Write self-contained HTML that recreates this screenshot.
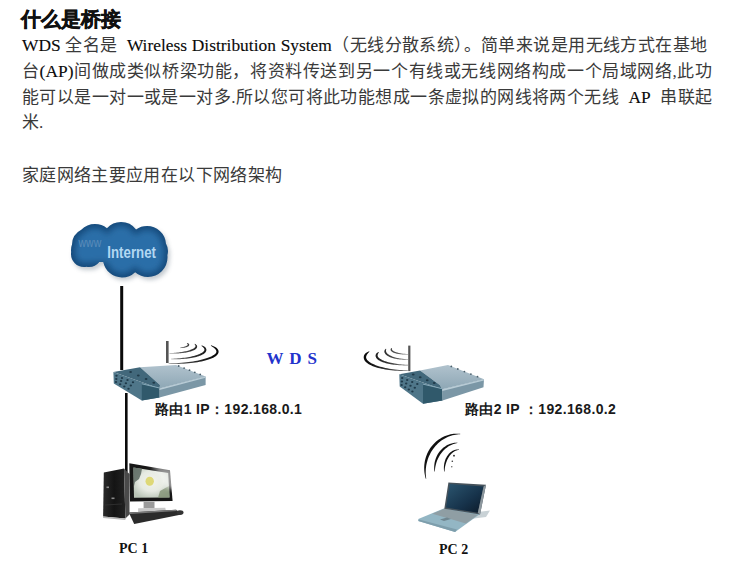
<!DOCTYPE html>
<html><head><meta charset="utf-8">
<style>
html,body{margin:0;padding:0;background:#fff;width:740px;height:563px;overflow:hidden;position:relative}
.t{position:absolute;white-space:nowrap;color:#111}
.serif{font-family:"Liberation Serif",serif}
.sans{font-family:"Liberation Sans",sans-serif}
.ln b{font-weight:normal;font-size:17.4px;color:#0a0a0a;-webkit-text-stroke:0.12px #0a0a0a}
.ln{position:absolute;left:22px;width:690px;height:26px;line-height:26px;font-size:17px;font-family:"Liberation Serif",serif;color:#3a3a3a;text-align:justify;text-align-last:justify;white-space:nowrap}
</style></head><body>
<div class="t sans" style="left:21px;top:4px;font-size:20px;font-weight:bold;line-height:30px;-webkit-text-stroke:0.5px #111">什么是桥接</div>
<div lang="zh-CN" class="ln" style="top:32px;width:685px"><b>WDS</b> 全名是&nbsp; <b>Wireless Distribution System</b>（无线分散系统）。简单来说是用无线方式在基地</div>
<div lang="zh-CN" class="ln" style="top:58px;width:690px">台<b>(AP)</b>间做成类似桥梁功能，将资料传送到另一个有线或无线网络构成一个局域网络,此功</div>
<div lang="zh-CN" class="ln" style="top:84px;width:690px">能可以是一对一或是一对多.所以您可将此功能想成一条虚拟的网线将两个无线&nbsp; <b>AP</b>&nbsp; 串联起</div>
<div lang="zh-CN" class="ln" style="top:110px;text-align-last:left">米.</div>
<div lang="zh-CN" class="ln" style="top:163px;width:260px">家庭网络主要应用在以下网络架构</div>

<svg style="position:absolute;left:0;top:0" width="740" height="563" viewBox="0 0 740 563">
<defs>
 <clipPath id="cc"><circle cx="89" cy="245" r="17"/><circle cx="95" cy="243" r="19"/><circle cx="121" cy="241" r="19"/><circle cx="147" cy="245" r="19"/><circle cx="86" cy="250" r="15"/><circle cx="153" cy="251" r="15"/><circle cx="89" cy="254" r="13"/><circle cx="84" cy="254" r="13"/><circle cx="122" cy="258.5" r="19"/><circle cx="148" cy="257.5" r="19.5"/><rect x="84" y="235" width="72" height="27"/></clipPath>
 <filter id="b3" x="-30%" y="-30%" width="160%" height="160%"><feGaussianBlur stdDeviation="3"/></filter>
 <filter id="b2" x="-30%" y="-30%" width="160%" height="160%"><feGaussianBlur stdDeviation="2"/></filter>
 <linearGradient id="scr" x1="0" y1="0" x2="1" y2="1">
  <stop offset="0" stop-color="#2c5670"/>
  <stop offset="0.6" stop-color="#16324a"/>
  <stop offset="1" stop-color="#0c1a28"/>
 </linearGradient>
 <linearGradient id="tower" x1="0" y1="0" x2="1" y2="0">
  <stop offset="0" stop-color="#2a2a2a"/><stop offset="0.5" stop-color="#141414"/><stop offset="1" stop-color="#222"/>
 </linearGradient>
 <radialGradient id="flower" cx="0.5" cy="0.45" r="0.6">
  <stop offset="0" stop-color="#f2f3ec"/><stop offset="0.55" stop-color="#e6eae2"/><stop offset="1" stop-color="#b9c4b6"/>
 </radialGradient>
 <linearGradient id="arcR" gradientUnits="userSpaceOnUse" x1="168" y1="0" x2="215" y2="0">
  <stop offset="0" stop-color="#8a8a8a"/><stop offset="0.5" stop-color="#333"/><stop offset="1" stop-color="#0a0a0a"/>
 </linearGradient>
 <linearGradient id="arcL" gradientUnits="userSpaceOnUse" x1="409" y1="0" x2="366" y2="0">
  <stop offset="0" stop-color="#8a8a8a"/><stop offset="0.5" stop-color="#333"/><stop offset="1" stop-color="#0a0a0a"/>
 </linearGradient>
 <linearGradient id="rtop" x1="0" y1="0" x2="0" y2="1">
  <stop offset="0" stop-color="#b0c2cd"/>
  <stop offset="1" stop-color="#8ea7b5"/>
 </linearGradient>
</defs>
<!-- cloud shadow -->
<g fill="#7d8a96" opacity="0.45" filter="url(#b2)" transform="translate(2,3)"><circle cx="89" cy="245" r="17"/><circle cx="95" cy="243" r="19"/><circle cx="121" cy="241" r="19"/><circle cx="147" cy="245" r="19"/><circle cx="86" cy="250" r="15"/><circle cx="153" cy="251" r="15"/><circle cx="89" cy="254" r="13"/><circle cx="84" cy="254" r="13"/><circle cx="122" cy="258.5" r="19"/><circle cx="148" cy="257.5" r="19.5"/><rect x="84" y="235" width="72" height="27"/></g>
<g clip-path="url(#cc)">
 <rect x="60" y="210" width="120" height="80" fill="#154a7b"/>
 <g fill="#2b6ea8" filter="url(#b3)"><circle cx="89" cy="245" r="13"/><circle cx="95" cy="243" r="15"/><circle cx="121" cy="241" r="15"/><circle cx="147" cy="245" r="15"/><circle cx="86" cy="250" r="11"/><circle cx="153" cy="251" r="11"/><circle cx="89" cy="254" r="9"/><circle cx="84" cy="254" r="9"/><circle cx="122" cy="258.5" r="15"/><circle cx="148" cy="257.5" r="15.5"/><rect x="84" y="235" width="72" height="27"/></g>
</g>
<text x="78.6" y="247.5" font-family="Liberation Sans" font-size="12" fill="#5a8cba" transform="translate(78.6,0) scale(0.87,1) translate(-78.6,0)">www</text>
<text x="107.3" y="257.6" font-family="Liberation Sans" font-weight="bold" font-size="16" fill="#b2d8f2" transform="translate(107.3,0) scale(0.83,1) translate(-107.3,0)">Internet</text>

<!-- lines -->
<rect x="120.2" y="286" width="3" height="84" fill="#0a0a0a"/>
<rect x="125" y="393" width="2.6" height="79" fill="#0a0a0a"/>

<!-- router 1 -->
<rect x="166" y="341" width="2.6" height="22" fill="#555"/>
<path d="M168.60 364.00 L171.16 364.03 L173.72 364.02 L176.27 363.98 L178.79 363.90 L181.29 363.79 L183.75 363.65 L186.18 363.48 L188.56 363.28 L190.88 363.04 L193.15 362.77 L195.35 362.47 L197.48 362.15 L199.53 361.79 L201.50 361.41 L203.39 361.00 L205.18 360.56 L206.87 360.10 L208.47 359.61 L209.96 359.10 L211.34 358.56 L212.61 358.00 L213.77 357.42 L214.82 356.82 L215.75 356.18 L216.56 355.52 L217.25 354.82 L217.82 354.08 L218.24 353.29 L218.51 352.46 L218.60 351.60 L218.50 350.74 L218.21 349.92 L217.75 349.16 L217.15 348.47 L216.42 347.83 L215.57 347.25 L214.61 346.71 L213.54 346.20 L212.36 345.72 L211.07 345.27 L210.83 345.83 L211.98 346.49 L213.01 347.16 L213.89 347.82 L214.64 348.47 L215.25 349.10 L215.71 349.70 L216.04 350.25 L216.26 350.75 L216.37 351.19 L216.40 351.60 L216.36 352.01 L216.22 352.44 L215.98 352.91 L215.61 353.41 L215.11 353.94 L214.46 354.50 L213.68 355.06 L212.77 355.62 L211.73 356.18 L210.56 356.74 L209.27 357.28 L207.86 357.82 L206.33 358.33 L204.70 358.83 L202.97 359.32 L201.14 359.78 L199.22 360.22 L197.21 360.63 L195.12 361.02 L192.95 361.39 L190.72 361.72 L188.42 362.03 L186.07 362.31 L183.67 362.56 L181.22 362.78 L178.74 362.97 L176.23 363.13 L173.70 363.25 L171.15 363.34 L168.60 363.40 Z" fill="url(#arcR)"/>
<path d="M171.20 359.30 L172.95 359.32 L174.70 359.33 L176.43 359.30 L178.16 359.25 L179.87 359.18 L181.56 359.09 L183.22 358.97 L184.85 358.82 L186.45 358.66 L188.01 358.47 L189.53 358.26 L191.00 358.03 L192.42 357.77 L193.79 357.50 L195.10 357.20 L196.36 356.89 L197.55 356.55 L198.68 356.20 L199.73 355.83 L200.72 355.44 L201.64 355.03 L202.49 354.60 L203.26 354.16 L203.96 353.69 L204.58 353.20 L205.11 352.69 L205.57 352.14 L205.94 351.56 L206.21 350.95 L206.36 350.31 L206.39 349.65 L206.27 349.00 L206.03 348.39 L205.67 347.83 L205.22 347.33 L204.69 346.87 L204.08 346.44 L203.39 346.06 L202.64 345.70 L201.81 345.36 L201.53 345.89 L202.21 346.40 L202.80 346.90 L203.29 347.40 L203.69 347.88 L203.99 348.33 L204.20 348.75 L204.33 349.12 L204.39 349.44 L204.41 349.73 L204.38 350.02 L204.31 350.31 L204.18 350.63 L203.97 350.98 L203.67 351.35 L203.28 351.74 L202.80 352.14 L202.23 352.55 L201.57 352.96 L200.83 353.37 L200.00 353.78 L199.09 354.18 L198.10 354.56 L197.04 354.94 L195.90 355.31 L194.70 355.66 L193.44 356.00 L192.11 356.32 L190.73 356.63 L189.30 356.92 L187.81 357.18 L186.28 357.43 L184.71 357.66 L183.11 357.87 L181.47 358.06 L179.80 358.22 L178.11 358.36 L176.40 358.48 L174.68 358.58 L172.94 358.65 L171.20 358.70 Z" fill="url(#arcR)"/>
<path d="M169.50 353.55 L170.79 353.58 L172.08 353.59 L173.36 353.58 L174.63 353.56 L175.90 353.52 L177.15 353.47 L178.38 353.40 L179.59 353.31 L180.78 353.21 L181.95 353.09 L183.09 352.96 L184.20 352.81 L185.28 352.65 L186.32 352.47 L187.33 352.28 L188.29 352.07 L189.22 351.86 L190.10 351.62 L190.94 351.38 L191.73 351.12 L192.48 350.85 L193.18 350.57 L193.82 350.27 L194.42 349.96 L194.96 349.63 L195.46 349.29 L195.90 348.93 L196.28 348.55 L196.61 348.14 L196.87 347.71 L197.06 347.25 L197.14 346.76 L197.13 346.27 L197.00 345.80 L196.79 345.37 L196.51 344.99 L196.16 344.65 L195.76 344.35 L195.32 344.08 L194.83 343.84 L194.54 344.24 L194.87 344.62 L195.13 344.99 L195.31 345.34 L195.43 345.65 L195.49 345.93 L195.50 346.16 L195.47 346.35 L195.42 346.52 L195.36 346.70 L195.27 346.89 L195.14 347.11 L194.95 347.35 L194.69 347.61 L194.37 347.89 L193.99 348.17 L193.55 348.45 L193.04 348.74 L192.48 349.03 L191.85 349.31 L191.17 349.59 L190.44 349.87 L189.65 350.14 L188.82 350.40 L187.94 350.65 L187.01 350.90 L186.05 351.13 L185.04 351.35 L183.99 351.56 L182.91 351.76 L181.80 351.95 L180.66 352.12 L179.49 352.29 L178.29 352.43 L177.08 352.57 L175.84 352.68 L174.59 352.79 L173.33 352.88 L172.06 352.95 L170.78 353.01 L169.50 353.05 Z" fill="url(#arcR)"/>
<path d="M180.28 348.17 L180.81 348.12 L181.33 348.08 L181.84 348.03 L182.33 347.97 L182.81 347.91 L183.28 347.85 L183.74 347.78 L184.17 347.71 L184.60 347.63 L185.00 347.55 L185.39 347.47 L185.77 347.37 L186.13 347.28 L186.46 347.18 L186.79 347.07 L187.09 346.96 L187.38 346.85 L187.65 346.72 L187.90 346.60 L188.13 346.46 L188.35 346.31 L188.55 346.15 L188.73 345.98 L188.89 345.80 L189.03 345.59 L189.14 345.36 L189.22 345.12 L189.25 344.86 L189.23 344.60 L189.17 344.35 L189.06 344.13 L188.91 343.93 L188.74 343.76 L188.55 343.61 L188.34 343.48 L188.12 343.37 L187.88 343.28 L187.62 343.20 L187.35 343.12 L187.06 343.05 L186.85 343.51 L187.06 343.68 L187.24 343.85 L187.40 344.02 L187.52 344.18 L187.62 344.33 L187.70 344.46 L187.74 344.58 L187.77 344.67 L187.77 344.74 L187.76 344.78 L187.75 344.79 L187.75 344.80 L187.75 344.81 L187.75 344.83 L187.73 344.87 L187.70 344.93 L187.65 345.01 L187.57 345.10 L187.47 345.20 L187.34 345.31 L187.18 345.42 L187.00 345.54 L186.80 345.67 L186.57 345.79 L186.32 345.92 L186.04 346.05 L185.75 346.18 L185.43 346.30 L185.09 346.43 L184.73 346.56 L184.36 346.68 L183.96 346.80 L183.55 346.92 L183.12 347.04 L182.67 347.15 L182.21 347.26 L181.73 347.37 L181.24 347.47 L180.74 347.57 L180.22 347.67 Z" fill="url(#arcR)"/>
<polygon points="140,367.3 176,365 205.6,376.5 159.5,388.5 160,385" fill="url(#rtop)"/>
<polygon points="113.4,372.1 140,367.3 160,385 159.5,388.5" fill="#42687b"/>
<polygon points="113.4,372.1 159.5,388.5 159.5,397.5 141.8,400.4 113.8,383.4" fill="#4f7689"/>
<polygon points="141.8,383.8032537960955 159.5,388.0 159.5,397.5 141.8,400.4" fill="#30596b"/>
<line x1="141.8" y1="383.8032537960955" x2="159.5" y2="388.0" stroke="#8fb0bf" stroke-width="0.9"/>
<polygon points="159.5,388.5 205.6,376.5 205.6,385 159.5,397.5" fill="#7b97a6"/>
<polygon points="159.5,388.5 205.6,376.5 205.6,377.86 159.5,389.94" fill="#b9ccd6"/>
<ellipse cx="116.5" cy="375.8" rx="1.2" ry="1.0" fill="#1f3a4a"/>
<ellipse cx="122.0" cy="377.9" rx="1.2" ry="1.0" fill="#1f3a4a"/>
<ellipse cx="127.5" cy="380.1" rx="1.2" ry="1.0" fill="#1f3a4a"/>
<ellipse cx="133.0" cy="382.2" rx="1.2" ry="1.0" fill="#1f3a4a"/>
<ellipse cx="116.3" cy="378.9" rx="1.2" ry="1.0" fill="#1f3a4a"/>
<ellipse cx="121.1" cy="381.1" rx="1.2" ry="1.0" fill="#1f3a4a"/>
<ellipse cx="125.9" cy="383.3" rx="1.2" ry="1.0" fill="#1f3a4a"/>
<ellipse cx="130.8" cy="385.5" rx="1.2" ry="1.0" fill="#1f3a4a"/>
<ellipse cx="116.0" cy="382.1" rx="1.2" ry="1.0" fill="#1f3a4a"/>
<ellipse cx="120.2" cy="384.3" rx="1.2" ry="1.0" fill="#1f3a4a"/>
<ellipse cx="124.3" cy="386.5" rx="1.2" ry="1.0" fill="#1f3a4a"/>
<ellipse cx="128.5" cy="388.7" rx="1.2" ry="1.0" fill="#1f3a4a"/>
<ellipse cx="130.6" cy="372.0" rx="1.4" ry="1.0" fill="#203a49"/>
<ellipse cx="138.3" cy="375.5" rx="1.4" ry="1.0" fill="#203a49"/>
<ellipse cx="146.1" cy="379.1" rx="1.4" ry="1.0" fill="#203a49"/>
<ellipse cx="153.8" cy="382.7" rx="1.4" ry="1.0" fill="#203a49"/>
<circle cx="178.7" cy="366.0" r="0.9" fill="#4a5f6b"/>
<circle cx="184.1" cy="368.1" r="0.9" fill="#4a5f6b"/>
<circle cx="189.5" cy="370.2" r="0.9" fill="#4a5f6b"/>
<circle cx="194.8" cy="372.3" r="0.9" fill="#4a5f6b"/>
<circle cx="200.2" cy="374.4" r="0.9" fill="#4a5f6b"/>

<!-- router 2 -->
<rect x="408.2" y="345.6" width="2.2" height="25.5" fill="#555"/>
<path d="M408.20 371.00 L406.00 371.03 L403.81 371.02 L401.63 370.98 L399.46 370.90 L397.32 370.79 L395.20 370.65 L393.11 370.47 L391.06 370.26 L389.05 370.01 L387.09 369.73 L385.17 369.43 L383.32 369.09 L381.53 368.72 L379.80 368.32 L378.14 367.89 L376.55 367.43 L375.05 366.95 L373.62 366.44 L372.27 365.90 L371.01 365.34 L369.84 364.75 L368.77 364.14 L367.78 363.50 L366.89 362.84 L366.10 362.15 L365.41 361.43 L364.82 360.67 L364.35 359.88 L364.00 359.05 L363.78 358.20 L363.70 357.33 L363.77 356.46 L363.99 355.61 L364.37 354.80 L364.89 354.05 L365.54 353.37 L366.29 352.75 L367.15 352.18 L368.09 351.66 L369.12 351.17 L369.44 351.68 L368.65 352.43 L367.98 353.17 L367.42 353.88 L366.98 354.57 L366.65 355.20 L366.40 355.79 L366.24 356.33 L366.14 356.83 L366.10 357.32 L366.14 357.80 L366.26 358.30 L366.47 358.82 L366.77 359.36 L367.19 359.93 L367.71 360.51 L368.34 361.10 L369.08 361.70 L369.93 362.29 L370.89 362.88 L371.94 363.46 L373.10 364.03 L374.36 364.59 L375.70 365.13 L377.13 365.65 L378.65 366.15 L380.24 366.63 L381.92 367.09 L383.66 367.52 L385.46 367.93 L387.33 368.31 L389.25 368.66 L391.23 368.98 L393.25 369.27 L395.31 369.53 L397.40 369.76 L399.52 369.95 L401.67 370.11 L403.84 370.24 L406.01 370.34 L408.20 370.40 Z" fill="url(#arcL)"/>
<path d="M408.20 365.40 L406.67 365.43 L405.13 365.43 L403.61 365.41 L402.09 365.37 L400.59 365.30 L399.10 365.22 L397.63 365.11 L396.19 364.98 L394.77 364.83 L393.38 364.65 L392.03 364.46 L390.71 364.24 L389.43 364.01 L388.20 363.75 L387.00 363.48 L385.86 363.18 L384.76 362.87 L383.71 362.54 L382.72 362.19 L381.79 361.83 L380.91 361.44 L380.09 361.04 L379.33 360.62 L378.63 360.19 L378.00 359.73 L377.43 359.26 L376.92 358.76 L376.49 358.23 L376.13 357.68 L375.85 357.10 L375.65 356.49 L375.56 355.87 L375.58 355.24 L375.73 354.64 L375.99 354.07 L376.35 353.55 L376.80 353.09 L377.31 352.67 L377.88 352.30 L378.51 351.96 L378.88 352.43 L378.49 352.96 L378.17 353.47 L377.94 353.94 L377.79 354.38 L377.70 354.78 L377.65 355.12 L377.64 355.43 L377.65 355.73 L377.70 356.02 L377.79 356.33 L377.95 356.66 L378.16 357.02 L378.45 357.39 L378.82 357.77 L379.25 358.16 L379.77 358.56 L380.35 358.96 L381.01 359.35 L381.73 359.75 L382.53 360.13 L383.39 360.51 L384.31 360.88 L385.29 361.24 L386.33 361.59 L387.42 361.92 L388.56 362.24 L389.75 362.55 L390.99 362.84 L392.27 363.11 L393.59 363.36 L394.94 363.60 L396.33 363.81 L397.75 364.01 L399.19 364.19 L400.66 364.34 L402.14 364.48 L403.64 364.59 L405.15 364.68 L406.68 364.75 L408.20 364.80 Z" fill="url(#arcL)"/>
<path d="M408.20 359.75 L407.13 359.77 L406.06 359.78 L405.00 359.77 L403.94 359.73 L402.89 359.69 L401.85 359.62 L400.83 359.53 L399.81 359.43 L398.82 359.31 L397.84 359.18 L396.88 359.02 L395.95 358.85 L395.04 358.66 L394.15 358.46 L393.30 358.24 L392.47 358.00 L391.67 357.75 L390.91 357.49 L390.18 357.20 L389.49 356.91 L388.83 356.60 L388.22 356.27 L387.64 355.93 L387.10 355.58 L386.60 355.21 L386.15 354.82 L385.74 354.42 L385.37 354.01 L385.05 353.57 L384.79 353.12 L384.58 352.65 L384.42 352.17 L384.34 351.68 L384.35 351.18 L384.44 350.70 L384.62 350.24 L384.86 349.81 L385.16 349.43 L385.51 349.08 L385.90 348.76 L386.29 349.07 L386.14 349.49 L386.04 349.89 L386.00 350.26 L385.99 350.60 L386.01 350.91 L386.05 351.19 L386.10 351.46 L386.17 351.73 L386.26 352.01 L386.38 352.30 L386.55 352.60 L386.77 352.91 L387.03 353.23 L387.34 353.55 L387.69 353.88 L388.10 354.20 L388.55 354.53 L389.05 354.85 L389.59 355.17 L390.17 355.48 L390.80 355.79 L391.47 356.09 L392.17 356.38 L392.91 356.66 L393.69 356.92 L394.50 357.18 L395.34 357.43 L396.21 357.66 L397.11 357.88 L398.04 358.08 L398.98 358.27 L399.95 358.44 L400.94 358.60 L401.94 358.75 L402.96 358.87 L403.99 358.98 L405.04 359.08 L406.09 359.15 L407.14 359.21 L408.20 359.25 Z" fill="url(#arcL)"/>
<path d="M408.20 354.55 L407.42 354.57 L406.63 354.58 L405.85 354.58 L405.07 354.57 L404.30 354.54 L403.54 354.51 L402.78 354.47 L402.04 354.41 L401.31 354.35 L400.59 354.28 L399.89 354.19 L399.20 354.10 L398.54 354.00 L397.89 353.88 L397.26 353.76 L396.65 353.63 L396.07 353.49 L395.51 353.34 L394.98 353.18 L394.47 353.01 L393.99 352.84 L393.53 352.65 L393.11 352.46 L392.71 352.25 L392.34 352.04 L392.00 351.81 L391.69 351.58 L391.41 351.33 L391.17 351.07 L390.96 350.78 L390.78 350.48 L390.66 350.16 L390.59 349.83 L390.59 349.49 L390.66 349.16 L390.80 348.86 L390.99 348.59 L391.23 348.36 L391.49 348.17 L391.78 348.00 L392.13 348.35 L392.02 348.61 L391.96 348.85 L391.94 349.06 L391.95 349.24 L391.98 349.38 L392.01 349.50 L392.05 349.60 L392.08 349.71 L392.13 349.83 L392.21 349.97 L392.32 350.12 L392.46 350.28 L392.65 350.46 L392.86 350.64 L393.12 350.83 L393.42 351.02 L393.75 351.21 L394.11 351.39 L394.51 351.58 L394.94 351.77 L395.40 351.95 L395.89 352.12 L396.41 352.29 L396.96 352.46 L397.53 352.62 L398.12 352.77 L398.74 352.92 L399.39 353.06 L400.05 353.19 L400.73 353.31 L401.42 353.43 L402.14 353.54 L402.86 353.63 L403.60 353.72 L404.35 353.80 L405.11 353.87 L405.88 353.93 L406.65 353.98 L407.42 354.02 L408.20 354.05 Z" fill="url(#arcL)"/>
<polygon points="420,370.5 448,365.1 484,379.3 442.2,389.2 439.8,384.9" fill="url(#rtop)"/>
<polygon points="399.3,374.3 420,370.5 439.8,384.9 442.2,389.2" fill="#42687b"/>
<polygon points="399.3,374.3 442.2,389.2 442.5,400.5 423,403.7 399.7,386.5" fill="#4f7689"/>
<polygon points="423,384.13146853146856 442.2,388.7 442.5,400.5 423,403.7" fill="#30596b"/>
<line x1="423" y1="384.13146853146856" x2="442.2" y2="388.7" stroke="#8fb0bf" stroke-width="0.9"/>
<polygon points="442.2,389.2 484,379.3 483.5,387.3 442.5,400.5" fill="#7b97a6"/>
<polygon points="442.2,389.2 484,379.3 483.92,380.58 442.248,391.008" fill="#b9ccd6"/>
<ellipse cx="402.2" cy="378.1" rx="1.2" ry="1.0" fill="#1f3a4a"/>
<ellipse cx="407.2" cy="380.1" rx="1.2" ry="1.0" fill="#1f3a4a"/>
<ellipse cx="412.2" cy="382.1" rx="1.2" ry="1.0" fill="#1f3a4a"/>
<ellipse cx="417.3" cy="384.1" rx="1.2" ry="1.0" fill="#1f3a4a"/>
<ellipse cx="401.9" cy="381.6" rx="1.2" ry="1.0" fill="#1f3a4a"/>
<ellipse cx="406.2" cy="383.6" rx="1.2" ry="1.0" fill="#1f3a4a"/>
<ellipse cx="410.5" cy="385.7" rx="1.2" ry="1.0" fill="#1f3a4a"/>
<ellipse cx="414.8" cy="387.8" rx="1.2" ry="1.0" fill="#1f3a4a"/>
<ellipse cx="401.6" cy="385.0" rx="1.2" ry="1.0" fill="#1f3a4a"/>
<ellipse cx="405.2" cy="387.2" rx="1.2" ry="1.0" fill="#1f3a4a"/>
<ellipse cx="408.8" cy="389.4" rx="1.2" ry="1.0" fill="#1f3a4a"/>
<ellipse cx="412.4" cy="391.5" rx="1.2" ry="1.0" fill="#1f3a4a"/>
<ellipse cx="413.2" cy="374.4" rx="1.4" ry="1.0" fill="#203a49"/>
<ellipse cx="420.2" cy="377.3" rx="1.4" ry="1.0" fill="#203a49"/>
<ellipse cx="427.2" cy="380.2" rx="1.4" ry="1.0" fill="#203a49"/>
<ellipse cx="434.2" cy="383.1" rx="1.4" ry="1.0" fill="#203a49"/>
<circle cx="451.3" cy="366.4" r="0.9" fill="#4a5f6b"/>
<circle cx="457.8" cy="369.0" r="0.9" fill="#4a5f6b"/>
<circle cx="464.4" cy="371.6" r="0.9" fill="#4a5f6b"/>
<circle cx="470.9" cy="374.1" r="0.9" fill="#4a5f6b"/>
<circle cx="477.5" cy="376.7" r="0.9" fill="#4a5f6b"/>

<!-- PC1 -->
<polygon points="103.8,472.6 124,468.5 125.4,518.5 103.1,516.5" fill="url(#tower)"/>
<polygon points="124,468.5 129.5,473.9 129.5,514.5 125.4,518.5" fill="#4a4a4a"/>
<polygon points="103.1,516.5 125.4,518.5 125.4,520 103.1,518" fill="#b5b5b5"/>
<rect x="106.5" y="486.5" width="2.5" height="1.6" fill="#8a8a8a"/>
<rect x="111.5" y="497.5" width="3" height="1.6" fill="#8a8a8a"/>
<line x1="105" y1="505" x2="122" y2="504" stroke="#333" stroke-width="0.8"/>
<polygon points="129.3,463.3 170,470.3 172.6,501 130,501.5" fill="#161616"/>
<polygon points="133.4,467.4 168.2,473 169.6,497.5 134,497.8" fill="url(#flower)"/>
<polygon points="133.4,467.4 142,468.8 141,474 139,479 135,482 134,486" fill="#5b6760" opacity="0.85"/>
<ellipse cx="149.7" cy="481.2" rx="4.2" ry="4.5" fill="#dcd56a" opacity="0.9"/>
<polygon points="160,491 169,486 169.6,497.5 158,497.8" fill="#7c8c6e" opacity="0.75"/>
<polygon points="150,466 173,468 176,490 166,488 160,474" fill="#ffffff" opacity="0.55" filter="url(#b2)"/>
<rect x="143.6" y="501.8" width="10.9" height="6.5" fill="#9a9a9a"/>
<polygon points="138.2,508.2 165.3,507.7 166,511.5 138,511.8" fill="#c8c8c8"/>
<polygon points="128.8,512.4 176.1,509.7 181.5,514.5 134.2,523.9" fill="#2b2b2b"/>
<polygon points="128.8,512.4 176.1,509.7 177,511 130,514" fill="#777"/>
<ellipse cx="180" cy="512.5" rx="3.5" ry="2.3" fill="#333"/>

<!-- wireless arcs laptop -->
<path d="M425.77 478.77 L425.32 477.15 L424.95 475.51 L424.64 473.85 L424.42 472.17 L424.27 470.48 L424.19 468.78 L424.20 467.08 L424.29 465.37 L424.45 463.67 L424.70 461.98 L425.03 460.30 L425.44 458.63 L425.92 456.99 L426.49 455.38 L427.14 453.80 L427.86 452.25 L428.66 450.74 L429.53 449.28 L430.47 447.86 L431.47 446.50 L432.54 445.19 L433.67 443.94 L434.86 442.75 L436.10 441.62 L437.39 440.56 L438.72 439.57 L440.10 438.65 L441.52 437.80 L442.98 437.03 L444.46 436.34 L445.98 435.72 L447.52 435.18 L449.07 434.73 L450.65 434.35 L452.23 434.05 L453.83 433.84 L455.42 433.70 L457.02 433.65 L458.61 433.67 L460.20 433.77 L460.18 434.27 L458.62 434.33 L457.07 434.47 L455.53 434.69 L454.01 434.97 L452.50 435.33 L451.02 435.76 L449.56 436.26 L448.12 436.82 L446.71 437.45 L445.34 438.14 L443.99 438.90 L442.68 439.72 L441.41 440.59 L440.18 441.52 L438.98 442.51 L437.83 443.55 L436.72 444.64 L435.66 445.77 L434.65 446.96 L433.68 448.19 L432.76 449.46 L431.90 450.77 L431.08 452.12 L430.32 453.51 L429.61 454.92 L428.96 456.37 L428.36 457.85 L427.82 459.36 L427.34 460.89 L426.91 462.44 L426.55 464.01 L426.25 465.61 L426.01 467.21 L425.84 468.83 L425.74 470.46 L425.70 472.10 L425.73 473.74 L425.84 475.38 L426.01 477.02 L426.25 478.65 Z" fill="#111"/>
<path d="M434.38 471.44 L434.27 470.37 L434.20 469.30 L434.17 468.23 L434.17 467.15 L434.22 466.08 L434.31 465.00 L434.43 463.93 L434.60 462.86 L434.81 461.80 L435.07 460.75 L435.36 459.71 L435.70 458.69 L436.08 457.68 L436.50 456.69 L436.96 455.73 L437.46 454.78 L438.00 453.86 L438.57 452.97 L439.19 452.10 L439.83 451.27 L440.51 450.46 L441.22 449.69 L441.96 448.96 L442.72 448.26 L443.51 447.59 L444.33 446.97 L445.17 446.38 L446.03 445.84 L446.91 445.33 L447.80 444.87 L448.71 444.45 L449.64 444.07 L450.57 443.74 L451.52 443.45 L452.47 443.20 L453.43 443.00 L454.39 442.84 L455.35 442.72 L456.32 442.65 L457.28 442.62 L457.32 443.12 L456.39 443.27 L455.48 443.47 L454.57 443.70 L453.68 443.97 L452.80 444.28 L451.93 444.63 L451.08 445.01 L450.24 445.42 L449.42 445.86 L448.61 446.34 L447.83 446.85 L447.06 447.39 L446.31 447.96 L445.57 448.55 L444.86 449.18 L444.17 449.83 L443.50 450.50 L442.85 451.21 L442.22 451.93 L441.62 452.69 L441.04 453.46 L440.48 454.26 L439.94 455.07 L439.43 455.91 L438.94 456.77 L438.47 457.64 L438.03 458.53 L437.62 459.44 L437.22 460.37 L436.86 461.31 L436.52 462.27 L436.22 463.24 L435.94 464.23 L435.69 465.23 L435.47 466.24 L435.28 467.26 L435.13 468.28 L435.01 469.32 L434.93 470.36 L434.88 471.41 Z" fill="#111"/>
<path d="M444.09 471.43 L444.00 470.59 L443.93 469.75 L443.89 468.90 L443.88 468.06 L443.89 467.21 L443.93 466.36 L444.00 465.52 L444.10 464.68 L444.23 463.85 L444.38 463.03 L444.57 462.22 L444.78 461.41 L445.02 460.63 L445.29 459.85 L445.58 459.10 L445.91 458.36 L446.26 457.64 L446.64 456.95 L447.04 456.28 L447.47 455.63 L447.92 455.01 L448.39 454.41 L448.88 453.85 L449.38 453.31 L449.91 452.80 L450.46 452.33 L451.02 451.89 L451.59 451.48 L452.18 451.11 L452.77 450.78 L453.38 450.48 L454.00 450.21 L454.62 449.99 L455.24 449.80 L455.87 449.65 L456.50 449.54 L457.13 449.46 L457.76 449.42 L458.38 449.42 L459.00 449.45 L459.00 449.95 L458.41 450.02 L457.83 450.12 L457.26 450.25 L456.70 450.41 L456.14 450.60 L455.60 450.82 L455.06 451.07 L454.53 451.35 L454.01 451.66 L453.50 451.99 L453.00 452.35 L452.52 452.74 L452.04 453.15 L451.57 453.58 L451.12 454.04 L450.68 454.52 L450.25 455.03 L449.83 455.56 L449.42 456.11 L449.03 456.68 L448.65 457.28 L448.29 457.89 L447.94 458.52 L447.60 459.17 L447.28 459.84 L446.97 460.53 L446.68 461.23 L446.41 461.94 L446.15 462.67 L445.90 463.42 L445.68 464.18 L445.48 464.95 L445.29 465.73 L445.12 466.52 L444.98 467.32 L444.85 468.12 L444.75 468.94 L444.67 469.76 L444.62 470.58 L444.59 471.40 Z" fill="#111"/>
<circle cx="454" cy="455.7" r="0.9" fill="#222"/><circle cx="452.3" cy="461.2" r="0.8" fill="#333"/><circle cx="451.8" cy="466.8" r="0.7" fill="#555"/>
<!-- laptop -->
<polygon points="478,512 490,510.5 486,517 470,519" fill="#c9d2d6"/>
<polygon points="418.3,519.1 444.3,508.3 480,514 455.1,532 418.3,521" fill="#93b6c4"/>
<polygon points="418.3,521 455.1,532 457,529.5 419,519.6" fill="#7e9eac"/>
<polygon points="432.4,513.7 444.3,508.8 478,514.8 465.9,523.4" fill="#8f9ea4"/>
<polygon points="440,519.5 447,517.5 451,519 444,521" fill="#6f8690"/>
<polygon points="448.4,482.4 486,484.8 480,514.5 444.3,508.8" fill="#46525b"/>
<polygon points="449.7,484.1 483.6,486.4 477.8,512.8 446,507.6" fill="url(#scr)"/>
<polygon points="483.6,486.4 486,484.8 480,514.5 477.8,512.8" fill="#8d989e"/>
</svg>

<div class="t serif" style="left:266.5px;top:344px;font-size:17px;font-weight:bold;color:#2233cc;line-height:30px;letter-spacing:0.9px">W D S</div>
<div class="t sans" style="left:155px;top:400px;font-size:14px;font-weight:bold;line-height:18px;color:#1a1a1a;letter-spacing:0.35px">路由1 IP：192.168.0.1</div>
<div class="t sans" style="left:465px;top:400px;font-size:14px;font-weight:bold;line-height:18px;color:#1a1a1a;letter-spacing:0.35px">路由2 IP ：192.168.0.2</div>
<div class="t serif" style="left:119px;top:539px;font-size:14px;font-weight:bold;line-height:20px;color:#111">PC 1</div>
<div class="t serif" style="left:439px;top:540px;font-size:14px;font-weight:bold;line-height:20px;color:#111">PC 2</div>
</body></html>
